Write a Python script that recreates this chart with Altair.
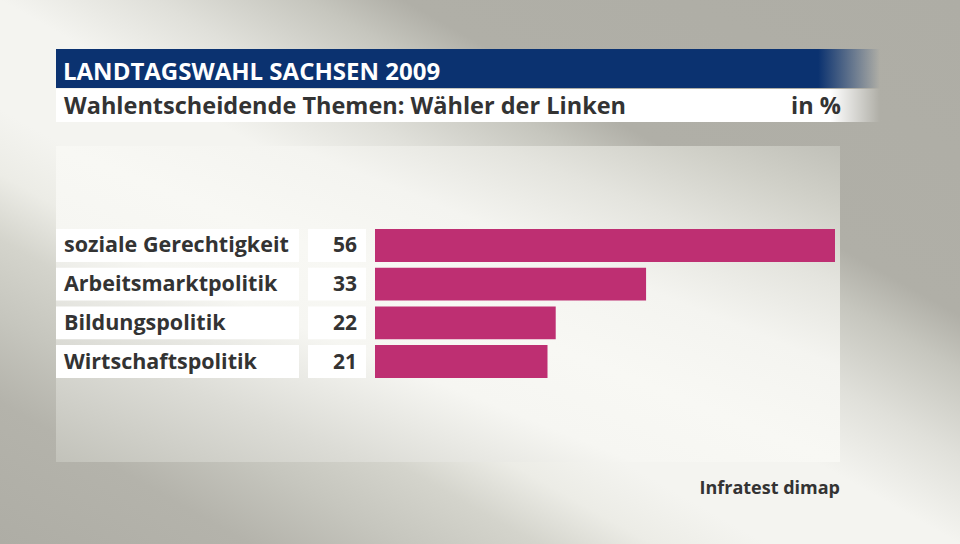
import altair as alt
import pandas as pd

categories = ["soziale Gerechtigkeit", "Arbeitsmarktpolitik", "Bildungspolitik", "Wirtschaftspolitik"]
values = [56, 33, 22, 21]
title_text = "LANDTAGSWAHL SACHSEN 2009"
subtitle_text = "Wahlentscheidende Themen: Wähler der Linken"
unit_text = "in %"
source_text = "Infratest dimap"

df = pd.DataFrame({"Thema": categories, "Wert": values})
one = pd.DataFrame({"k": [0]})

FONT = "Open Sans"
TXT = "#333333"

yenc = alt.Y("Thema:N", sort=categories, axis=None,
             scale=alt.Scale(range=[229, 378], paddingInner=0.15, paddingOuter=0))

bg = alt.Chart(one).mark_rect(
    fill=alt.Gradient(gradient="linear", x1=1, y1=0, x2=0, y2=1,
                      stops=[alt.GradientStop(color="#aeada5", offset=0),
                             alt.GradientStop(color="#b0afa7", offset=0.29),
                             alt.GradientStop(color="#c6c6be", offset=0.34),
                             alt.GradientStop(color="#e0e0da", offset=0.42),
                             alt.GradientStop(color="#f4f4f0", offset=0.5),
                             alt.GradientStop(color="#f4f4f0", offset=0.6),
                             alt.GradientStop(color="#ecece6", offset=0.66),
                             alt.GradientStop(color="#d4d4cc", offset=0.72),
                             alt.GradientStop(color="#c6c6be", offset=0.79),
                             alt.GradientStop(color="#b4b3ab", offset=0.87),
                             alt.GradientStop(color="#aeada5", offset=1)])
).encode(x=alt.value(0), x2=alt.value(960), y=alt.value(0), y2=alt.value(544))

panel = alt.Chart(one).mark_rect(
    fill=alt.Gradient(gradient="linear", x1=1, y1=0, x2=0, y2=1,
                      stops=[alt.GradientStop(color="#c0c0b8", offset=0),
                             alt.GradientStop(color="#d0d0c8", offset=0.1),
                             alt.GradientStop(color="#e4e4de", offset=0.22),
                             alt.GradientStop(color="#f4f4f0", offset=0.35),
                             alt.GradientStop(color="#f8f8f4", offset=0.5),
                             alt.GradientStop(color="#f6f6f2", offset=0.63),
                             alt.GradientStop(color="#dcdcd6", offset=0.8),
                             alt.GradientStop(color="#c2c2ba", offset=1)])
).encode(x=alt.value(56), x2=alt.value(840), y=alt.value(146), y2=alt.value(462))

titlebar = alt.Chart(one).mark_rect(
    fill=alt.Gradient(gradient="linear", x1=0, y1=0, x2=1, y2=0,
                      stops=[alt.GradientStop(color="#0b3270", offset=0),
                             alt.GradientStop(color="#0b3270", offset=0.925),
                             alt.GradientStop(color="rgba(11,50,112,0)", offset=1)])
).encode(x=alt.value(56), x2=alt.value(880), y=alt.value(49), y2=alt.value(88))

subbar = alt.Chart(one).mark_rect(
    fill=alt.Gradient(gradient="linear", x1=0, y1=0, x2=1, y2=0,
                      stops=[alt.GradientStop(color="#ffffff", offset=0),
                             alt.GradientStop(color="#ffffff", offset=0.94),
                             alt.GradientStop(color="rgba(255,255,255,0)", offset=1)])
).encode(x=alt.value(56), x2=alt.value(880), y=alt.value(89), y2=alt.value(122))

title = alt.Chart(one).mark_text(
    text=title_text, font=FONT, fontSize=24, fontWeight="bold", color="#ffffff",
    align="left", baseline="alphabetic").encode(x=alt.value(63), y=alt.value(80))

subtitle = alt.Chart(one).mark_text(
    text=subtitle_text, font=FONT, fontSize=23.5, fontWeight="bold", color=TXT,
    align="left", baseline="alphabetic").encode(x=alt.value(64), y=alt.value(114))

unit = alt.Chart(one).mark_text(
    text=unit_text, font=FONT, fontSize=23.5, fontWeight="bold", color=TXT,
    align="right", baseline="alphabetic").encode(x=alt.value(841), y=alt.value(114))

source = alt.Chart(one).mark_text(
    text=source_text, font=FONT, fontSize=18, fontWeight="bold", color=TXT,
    align="right", baseline="alphabetic").encode(x=alt.value(840), y=alt.value(494))

labelbox = alt.Chart(df).mark_rect(fill="#ffffff").encode(
    y=yenc, x=alt.value(56), x2=alt.value(299))

valbox = alt.Chart(df).mark_rect(fill="#ffffff").encode(
    y=yenc, x=alt.value(308), x2=alt.value(366))

bars = alt.Chart(df).mark_bar(color="#be2f72").encode(
    y=yenc,
    x=alt.X("Wert:Q", axis=None, scale=alt.Scale(domain=[0, 56], range=[375, 835])))

labels = alt.Chart(df).mark_text(
    font=FONT, fontSize=21.5, fontWeight="bold", color=TXT, align="left",
    baseline="middle", dy=1).encode(y=yenc, x=alt.value(64), text="Thema:N")

vals = alt.Chart(df).mark_text(
    font=FONT, fontSize=21, fontWeight="bold", color=TXT, align="right",
    baseline="middle", dy=1).encode(y=yenc, x=alt.value(357), text="Wert:Q")

chart = alt.layer(bg, panel, titlebar, subbar, title, subtitle, unit, source,
                  labelbox, valbox, bars, labels, vals).properties(
    width=960, height=544, padding=0,
    autosize=alt.AutoSizeParams(type="none")
).configure_view(strokeWidth=0).configure(background="#d0d0ca")

chart.save("out.html", embed_options={"renderer": "svg", "actions": False})
